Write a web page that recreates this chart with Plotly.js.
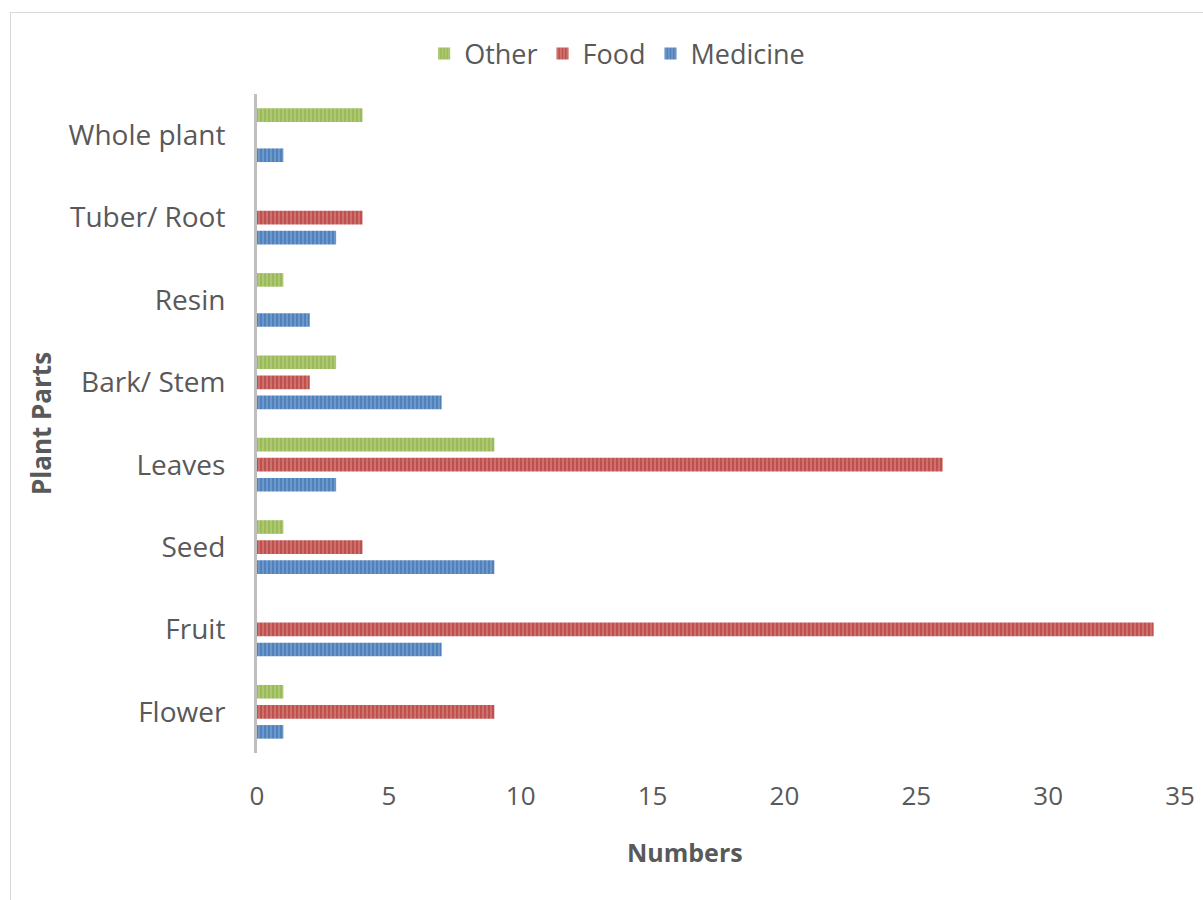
<!DOCTYPE html>
<html>
<head>
<meta charset="utf-8">
<script src="https://cdn.plot.ly/plotly-3.0.1.min.js"></script>
<style>
  html, body { margin: 0; padding: 0; background: #fff; }
  #frame { position: absolute; left: 10px; top: 12px; width: 1200px; height: 900px; border: 1px solid #d9d9d9; box-sizing: border-box; }
  #chart { position: absolute; left: 0; top: 0; width: 1203px; height: 900px; }
</style>
</head>
<body>
<div id="frame"></div>
<div id="chart"></div>
<script>
const categories = ["Flower", "Fruit", "Seed", "Leaves", "Bark/ Stem", "Resin", "Tuber/ Root", "Whole plant"];
const otherValues = [1, 0, 1, 9, 3, 1, 0, 4];
const foodValues = [9, 34, 4, 26, 2, 0, 4, 0];
const medicineValues = [1, 7, 9, 3, 7, 2, 3, 1];
const xTickValues = [0, 5, 10, 15, 20, 25, 30, 35];

function bar(name, values, bg, fg) {
  return {
    type: 'bar', orientation: 'h', name: name,
    y: categories, x: values,
    marker: {
      color: bg,
      line: {width: 0},
      pattern: {shape: '|', fillmode: 'overlay', bgcolor: bg, fgcolor: fg, size: 4, solidity: 0.4}
    },
    hoverinfo: 'x+y+name'
  };
}

const data = [
  bar('Medicine', medicineValues, '#4F81BD', '#9DB9DD'),
  bar('Food', foodValues, '#C0504D', '#E0A3A1'),
  bar('Other', otherValues, '#9BBB59', '#C9DBA3')
];

const font = {family: 'Open Sans, Liberation Sans, sans-serif', color: '#595959'};

const layout = {
  width: 1203, height: 900,
  paper_bgcolor: 'rgba(0,0,0,0)', plot_bgcolor: 'rgba(0,0,0,0)',
  margin: {l: 257, r: 23, t: 94, b: 147},
  barmode: 'group', bargap: 0.27, bargroupgap: 0.32,
  font: font,
  showlegend: true,
  legend: {
    orientation: 'h', traceorder: 'reversed',
    xref: 'container', yref: 'container',
    x: 0.513, xanchor: 'center', y: 0.94, yanchor: 'middle',
    font: {family: font.family, size: 27, color: '#595959'},
    itemwidth: 30
  },
  xaxis: {
    range: [0, 35], tickvals: xTickValues, ticktext: xTickValues.map(String),
    showgrid: false, zeroline: false, showline: false, ticks: '',
    ticklabelstandoff: 25,
    tickfont: {family: font.family, size: 26, color: '#595959'},
    fixedrange: true
  },
  yaxis: {
    type: 'category', categoryorder: 'array', categoryarray: categories,
    showgrid: false, zeroline: false, showline: true, linecolor: '#bfbfbf', linewidth: 3,
    ticks: '', ticklabelstandoff: 23,
    tickfont: {family: font.family, size: 28, color: '#595959'},
    title: {text: 'Plant Parts', standoff: 10, font: {family: font.family, size: 26, color: '#595959', weight: 'bold'}},
    fixedrange: true
  },
  annotations: [{
    text: 'Numbers', xref: 'paper', yref: 'paper', x: 0.464, y: -0.15,
    xanchor: 'center', yanchor: 'middle', showarrow: false,
    font: {family: font.family, size: 25, color: '#595959', weight: 'bold'}
  }]
};

Plotly.newPlot('chart', data, layout, {displayModeBar: false});
</script>
</body>
</html>
